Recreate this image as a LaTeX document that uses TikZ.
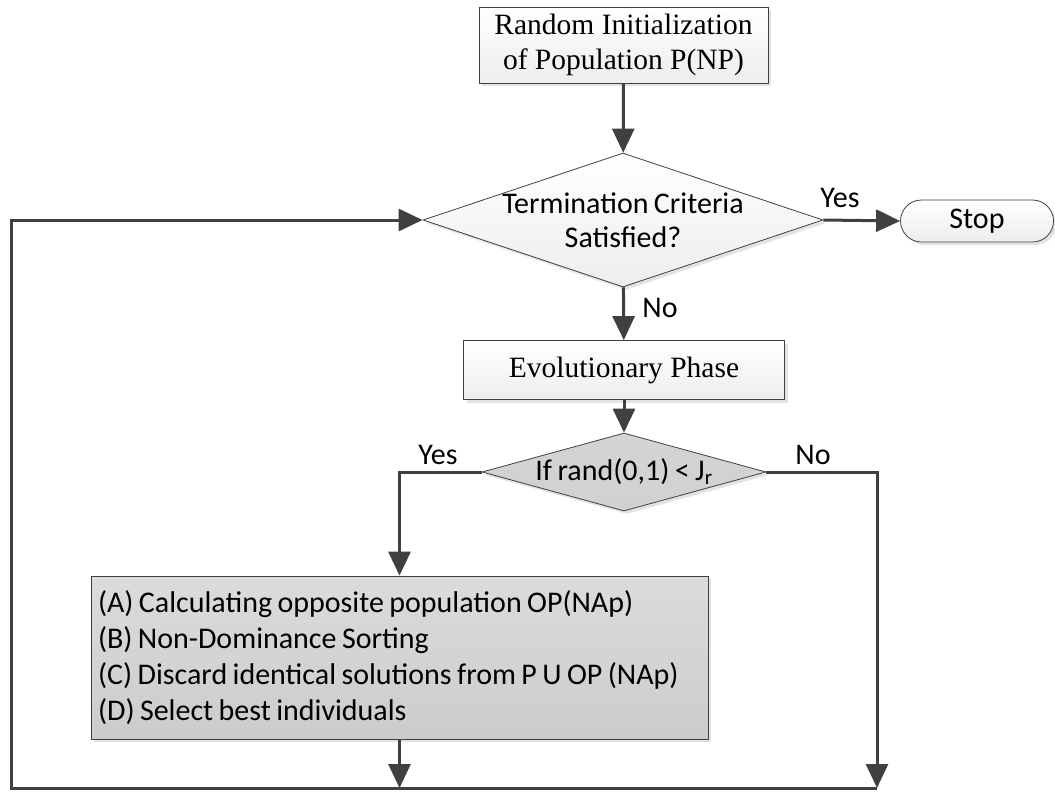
\documentclass[tikz,border=0pt]{standalone}
\usepackage{fontspec}
\setmainfont{Liberation Serif}
\newfontfamily\calibri[WordSpace=0.8]{Carlito}
\usetikzlibrary{arrows.meta, shapes.geometric, shapes.misc, shadows}

\definecolor{edgegray}{HTML}{404040}

\tikzset{
    shadowed/.style={drop shadow={shadow xshift=3pt, shadow yshift=-3pt, fill=gray!22, opacity=1}},
    procbox/.style={draw=edgegray, line width=0.8pt, top color=white, bottom color=gray!14,
        shadowed, inner sep=0pt, align=center, font=\fontsize{29.5}{35}\selectfont},
    decision/.style={diamond, draw=edgegray, line width=0.8pt, top color=white, bottom color=gray!14,
        shadowed, inner sep=0pt},
    darkdecision/.style={decision, top color=gray!34, bottom color=gray!36},
    termbox/.style={rounded rectangle, draw=edgegray, line width=0.8pt, top color=white,
        bottom color=gray!14, shadowed, inner sep=0pt, font=\calibri\fontsize{30}{34}\selectfont},
    listbox/.style={draw=edgegray, line width=0.8pt, top color=gray!28, bottom color=gray!40,
        shadowed, inner sep=7pt, align=flush left, font=\calibri\fontsize{30}{36}\selectfont},
    flow/.style={line width=3pt, draw=edgegray, -{Triangle[length=24pt, width=22pt]}},
    answer/.style={font=\calibri\fontsize{30}{34}\selectfont, inner sep=0pt},
}

\begin{document}
\begin{tikzpicture}[x=1pt, y=-1pt]
    \useasboundingbox (0,0) rectangle (1055,793);

    % main blocks
    \node[procbox, minimum width=289pt, minimum height=76pt] (init) at (623.5,45)
        {Random Initialization\\of Population P(NP)};
    \node[decision, minimum width=400pt, minimum height=134pt,
        label={[answer, align=center]center:{Termination Criteria\\Satisfied?}}] (term) at (623,220) {};
    \node[termbox, minimum width=153pt, minimum height=42pt] (stop) at (977,221) {Stop};
    \node[procbox, minimum width=321pt, minimum height=59pt] (evol) at (624,370) {Evolutionary Phase};
    \node[darkdecision, minimum width=284pt, minimum height=78pt,
        label={[answer]center:{If rand(0,1) < J\textsubscript{r}}}] (jump) at (624,472) {};
    \node[listbox, minimum width=617pt, minimum height=163pt, text width=603pt] (opp) at (399.5,657.5)
        {(A) Calculating opposite population OP(NAp)\\
         (B) Non-Dominance Sorting\\
         (C) Discard identical solutions from P U OP (NAp)\\
         (D) Select best individuals};

    % loop back corners
    \coordinate (noend) at (877,788);
    \coordinate (oppend) at (opp.south |- noend);
    \coordinate (loopbl) at (11,788);
    \coordinate (looptl) at (11,220);

    \draw[flow] (init) -- (term);
    \draw[flow] (term.east) -- (stop.west);
    \draw[flow] (term) -- (evol);
    \draw[flow] (evol) -- (jump);
    \draw[flow] (jump.west) -| (opp.north);
    \draw[flow] (jump.east) -| (noend);
    \draw[flow] (opp) -- (oppend);
    \draw[flow] (noend) -- (loopbl) -- (looptl) -- (term.west);

    \node[answer] (yesstop) at (840,198) {Yes};
    \node[answer] (noterm) at (660,308) {No};
    \node[answer] (yesjump) at (438,455) {Yes};
    \node[answer] (nojump) at (813,455) {No};
\end{tikzpicture}
\end{document}
